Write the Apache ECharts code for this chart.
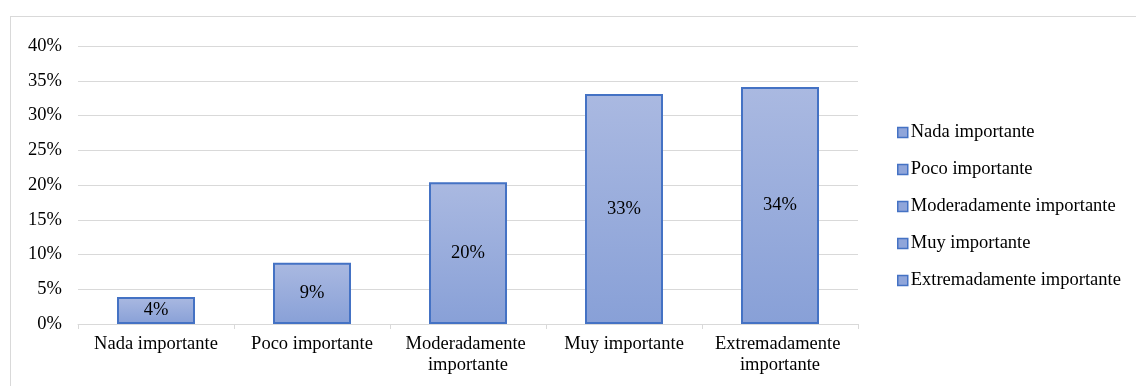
<!DOCTYPE html>
<html>
<head>
<meta charset="utf-8">
<script src="https://cdn.jsdelivr.net/npm/echarts@6/dist/echarts.min.js"></script>
<style>
html,body{margin:0;padding:0;background:#fff;}
#frame{position:absolute;left:10px;top:16px;width:1140px;height:400px;border:1px solid #d9d9d9;box-sizing:border-box;}
#chart{position:absolute;left:0;top:0;width:1136px;height:386px;}
</style>
</head>
<body>
<div id="frame"></div>
<div id="chart"></div>
<script>
const categories = ['Nada importante', 'Poco importante', 'Moderadamente importante', 'Muy importante', 'Extremadamente importante'];
const values = [3.9, 8.8, 20.4, 33.1, 34.1];
const labels = ['4%', '9%', '20%', '33%', '34%'];
const yTicks = [0, 5, 10, 15, 20, 25, 30, 35, 40];

const font = '"Liberation Serif", "Times New Roman", serif';
const fs = 18.5;
const fill = {
  type: 'linear', x: 0, y: 0, x2: 0, y2: 1,
  colorStops: [{offset: 0, color: '#aab9e1'}, {offset: 1, color: '#88a0d7'}]
};

const series = categories.map((name, i) => ({
  name: name,
  type: 'bar',
  stack: 'all',
  barWidth: '50%',
  data: categories.map((c, j) => j === i ? values[j] : '-'),
  itemStyle: {color: fill, borderColor: '#4472c4', borderWidth: 2},
  label: {
    show: true, position: 'inside', color: '#000',
    fontFamily: font, fontSize: fs,
    formatter: () => labels[i]
  }
}));

const chart = echarts.init(document.getElementById('chart'));
chart.setOption({
  animation: false,
  grid: {left: 78, right: 278, top: 46, bottom: 62},
  legend: {
    orient: 'vertical', left: 892, top: 118,
    itemWidth: 10, itemHeight: 10, itemGap: 18,
    icon: 'rect',
    data: categories,
    textStyle: {fontFamily: font, fontSize: fs, color: '#000', padding: [0, 0, 0, -2]},
    itemStyle: {color: '#8fa5da', borderColor: '#4472c4', borderWidth: 1.5}
  },
  xAxis: {
    type: 'category',
    data: categories,
    axisLine: {lineStyle: {color: '#d9d9d9', width: 1}},
    axisTick: {show: true, length: 5, lineStyle: {color: '#d9d9d9'}},
    axisLabel: {
      color: '#000', fontFamily: font, fontSize: fs, margin: 10,
      lineHeight: 21, width: 150, overflow: 'break', interval: 0
    }
  },
  yAxis: {
    type: 'value',
    min: yTicks[0], max: yTicks[yTicks.length - 1], interval: 5,
    axisLine: {show: false},
    axisTick: {show: false},
    splitLine: {lineStyle: {color: '#d9d9d9', width: 1}},
    axisLabel: {color: '#000', fontFamily: font, fontSize: fs, margin: 16, formatter: v => v + '%'}
  },
  series: series
});
</script>
</body>
</html>
